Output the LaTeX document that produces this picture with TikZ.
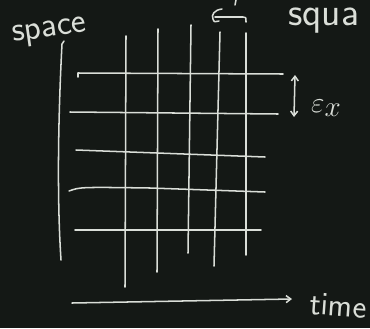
\documentclass[tikz,border=0pt]{standalone}
\usetikzlibrary{arrows.meta}
\definecolor{board}{RGB}{20,24,21}
\definecolor{chalk}{RGB}{218,222,216}
\begin{document}
\begin{tikzpicture}[x=0.03cm,y=-0.03cm,
  >={Straight Barb[length=4pt,width=6pt]},
  chalkline/.style={draw=chalk,line width=1.3pt,line cap=round,line join=round},
  chalktext/.style={text=chalk,font=\sffamily\fontsize{30}{34}\selectfont,inner sep=0pt}]
\fill[board] (0,0) rectangle (370,328);
\useasboundingbox (0,0) rectangle (370,328);
\begin{scope}
\clip (0,0) rectangle (370,328);
% labels
\node[chalktext,rotate=8,anchor=base west] (space) at (13,42) {space};
\node[chalktext,anchor=base west,font=\sffamily\fontsize{34}{38}\selectfont] (squa) at (288,25) {squa};
\node[chalktext,rotate=-4,anchor=base west,font=\sffamily\fontsize{28}{32}\selectfont] (time) at (309,314) {time};
\node[chalktext,anchor=base west,font=\fontsize{34}{38}\selectfont] (eps) at (311,112) {$\varepsilon_{x}$};
% space axis
\draw[chalkline] (64,41) -- (62,44) .. controls (58,120) and (57,200) .. (61,260);
% time axis
\coordinate (t0) at (72,303);
\coordinate (t1) at (292,299);
\draw[chalkline,->] (t0) -- (t1);
% vertical lines
\draw[chalkline] (126,36) -- (125,287);
\draw[chalkline] (158,29) -- (157,272);
\draw[chalkline] (191,25) -- (188,253);
\draw[chalkline] (220,32) -- (214,266);
\draw[chalkline] (246,33) -- (246,255);
% horizontal lines
\draw[chalkline] (78,77) -- (78,73) -- (283,74);
\draw[chalkline] (70,112) -- (278,114);
\draw[chalkline] (76,150) -- (265,157);
\draw[chalkline] (69,191) .. controls (80,187) .. (150,188) -- (265,192);
\draw[chalkline] (75,230) -- (261,230);
% epsilon_x arrow
\coordinate (e0) at (295,75);
\coordinate (e1) at (294,117);
\draw[chalkline,<->] (e0) -- (e1);
% top arrow
\coordinate (a0) at (215,17);
\coordinate (a1) at (245,17);
\draw[chalkline] (222,9) .. controls (214,10) and (211,15) .. (213,19) .. controls (214,22) .. (219,21);
\draw[chalkline] (a0) -- (243,17) .. controls (246,17) .. (246,22);
\draw[chalkline] (236,0) -- (235,5);
\end{scope}
\end{tikzpicture}
\end{document}
